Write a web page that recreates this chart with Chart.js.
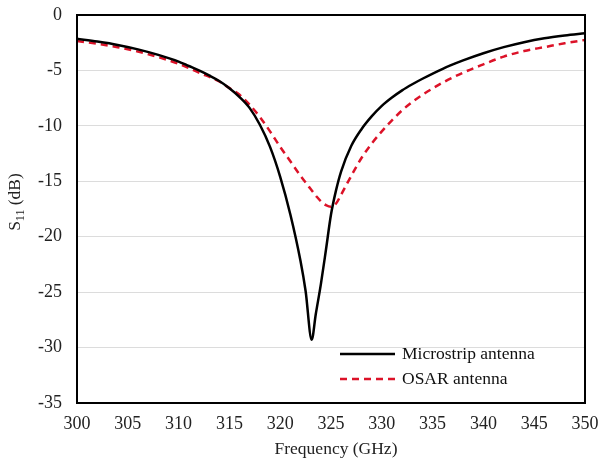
<!DOCTYPE html>
<html>
<head>
<meta charset="utf-8">
<script src="https://cdn.jsdelivr.net/npm/chart.js@4.4.0/dist/chart.umd.min.js"></script>
<style>
html,body{margin:0;padding:0;background:#fff;}
#wrap{width:602px;height:463px;}
</style>
</head>
<body>
<div id="wrap"><canvas id="c" width="602" height="463"></canvas></div>
<script>
const microFreq = [300,302,304,306,308,310,311,312,313,314,315,316,317,318,319,320,321,322,322.5,323.1,323.5,324,324.5,325,325.5,326,327,328,329,330,331,332,333,334,336,338,340,342,344,346,348,350];
const microS11  = [-2.15,-2.4,-2.7,-3.1,-3.6,-4.2,-4.6,-5.0,-5.45,-5.95,-6.6,-7.4,-8.4,-9.9,-11.9,-14.6,-18.0,-22.2,-24.9,-29.3,-27.0,-24.3,-21.2,-18.0,-15.8,-14.1,-11.8,-10.3,-9.15,-8.2,-7.45,-6.8,-6.25,-5.75,-4.85,-4.1,-3.45,-2.9,-2.45,-2.1,-1.85,-1.65];
const osarFreq = [300,302,304,306,308,310,312,314,315,316,317,318,319,320,321,322,323,323.6,324,324.5,325,325.5,326,327,328,329,330,331,332,333,334,336,338,340,342,344,346,348,350];
const osarS11  = [-2.35,-2.6,-2.9,-3.3,-3.8,-4.4,-5.2,-6.0,-6.6,-7.2,-8.1,-9.2,-10.5,-11.9,-13.2,-14.5,-15.7,-16.4,-16.8,-17.15,-17.3,-17.0,-16.2,-14.5,-12.9,-11.6,-10.5,-9.5,-8.6,-7.85,-7.2,-6.1,-5.2,-4.45,-3.75,-3.25,-2.9,-2.55,-2.25];
const seriesNames = ['Microstrip antenna','OSAR antenna'];
const xTicks = [300,305,310,315,320,325,330,335,340,345,350];
const yTicks = [0,-5,-10,-15,-20,-25,-30,-35];
const xTitle = 'Frequency (GHz)';

const serif = "'Liberation Serif','Times New Roman',serif";

const framePlugin = {
  id:'frame',
  afterDraw(chart){
    const {ctx, chartArea:a} = chart;
    ctx.save();
    ctx.strokeStyle='#000'; ctx.lineWidth=2;
    ctx.strokeRect(a.left, a.top, a.right-a.left, a.bottom-a.top);
    // legend
    const lx0 = a.left + 263, lx1 = a.left + 318, tx = a.left + 325;
    const ys = [a.top + 339, a.top + 364];
    ctx.font = "17.5px " + serif;
    ctx.textBaseline='middle'; ctx.textAlign='left'; ctx.fillStyle='#111';
    ctx.lineWidth=2.5;
    ctx.strokeStyle='#000'; ctx.setLineDash([]);
    ctx.beginPath(); ctx.moveTo(lx0, ys[0]); ctx.lineTo(lx1, ys[0]); ctx.stroke();
    ctx.fillText(seriesNames[0], tx, ys[0]);
    ctx.strokeStyle='#dc1228'; ctx.setLineDash([7,5]);
    ctx.beginPath(); ctx.moveTo(lx0, ys[1]); ctx.lineTo(lx1, ys[1]); ctx.stroke();
    ctx.setLineDash([]);
    ctx.fillText(seriesNames[1], tx, ys[1]);
    // x title
    ctx.fillStyle='#222'; ctx.textAlign='center';
    ctx.fillText(xTitle, (a.left+a.right)/2 + 5, a.bottom + 46);
    // y title with subscript
    ctx.translate(20, 202);
    ctx.rotate(-Math.PI/2);
    const s = 'S', sub = '11', rest = ' (dB)';
    ctx.font = "17.5px " + serif; const w1 = ctx.measureText(s).width;
    ctx.font = "12px " + serif; const w2 = ctx.measureText(sub).width;
    ctx.font = "17.5px " + serif; const w3 = ctx.measureText(rest).width;
    let x = -(w1+w2+w3)/2;
    ctx.textAlign='left'; ctx.textBaseline='alphabetic';
    ctx.fillText(s, x, 0); x += w1;
    ctx.font = "12px " + serif; ctx.fillText(sub, x, 4); x += w2;
    ctx.font = "17.5px " + serif; ctx.fillText(rest, x, 0);
    ctx.restore();
  }
};

new Chart(document.getElementById('c'), {
  type:'line',
  data:{
    datasets:[
      {label:seriesNames[0], data: microFreq.map((f,i)=>({x:f,y:microS11[i]})), borderColor:'#000', borderWidth:2.5, pointRadius:0, cubicInterpolationMode:'monotone', fill:false},
      {label:seriesNames[1], data: osarFreq.map((f,i)=>({x:f,y:osarS11[i]})), borderColor:'#dc1228', borderWidth:2.5, borderDash:[7,5], pointRadius:0, cubicInterpolationMode:'monotone', fill:false}
    ]
  },
  options:{
    responsive:false, animation:false,
    layout:{padding:{left:0,right:17,top:15,bottom:0}},
    plugins:{legend:{display:false}, tooltip:{enabled:false}},
    scales:{
      x:{type:'linear', min:300, max:350,
        afterBuildTicks(s){ s.ticks = xTicks.map(v=>({value:v})); },
        afterFit(s){ s.height = 60; s.paddingLeft = 0; s.paddingRight = 0; },
        grid:{display:false, drawTicks:false},
        border:{display:false},
        ticks:{color:'#222', font:{family:serif,size:18}, padding:10, maxRotation:0, autoSkip:false},
        title:{display:false}
      },
      y:{type:'linear', min:-35, max:0,
        afterBuildTicks(s){ s.ticks = yTicks.map(v=>({value:v})); },
        afterFit(s){ s.width = 77; s.paddingTop = 0; s.paddingBottom = 0; },
        grid:{color:'#dcdcdc', lineWidth:1, drawTicks:false},
        border:{display:false},
        ticks:{color:'#222', font:{family:serif,size:18}, padding:15, autoSkip:false}
      }
    }
  },
  plugins:[framePlugin]
});
</script>
</body>
</html>
